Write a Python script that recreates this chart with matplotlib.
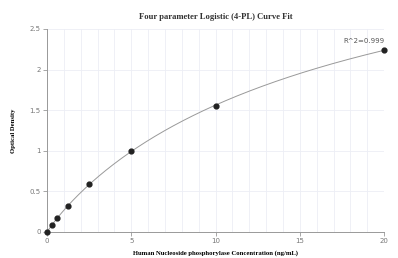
import numpy as np
import matplotlib
matplotlib.use("Agg")
import matplotlib.pyplot as plt

# standards
conc = np.array([0, 0.3125, 0.625, 1.25, 2.5, 5, 10, 20])
od = np.array([0.005, 0.08, 0.17, 0.32, 0.59, 1.0, 1.55, 2.24])
r2_text = "R^2=0.999"

# 4PL fit: y = d + (a-d)/(1+(x/c)^b), grid over b,c, linear solve for a,d
best = None
for b in np.linspace(0.5, 2.0, 151):
    for c in np.linspace(2, 60, 291):
        g = 1.0 / (1.0 + (conc / c) ** b)
        A = np.column_stack([g, 1 - g])
        coef, *_ = np.linalg.lstsq(A, od, rcond=None)
        err = np.sum((A @ coef - od) ** 2)
        if best is None or err < best[0]:
            best = (err, b, c, coef)
_, b, c, (a, d) = best
xs = np.linspace(0, 20, 300)
ys = d + (a - d) / (1 + (xs / c) ** b)

fig = plt.figure(figsize=(3.98, 2.58), dpi=100)
ax = fig.add_axes([0.118, 0.101, 0.847, 0.787])

ax.plot(xs, ys, color="#999999", lw=0.7, zorder=2)
ax.scatter(conc, od, s=12, color="#222222", zorder=3, clip_on=False)
ax.text(20, 2.24 + 0.08, r2_text, ha="right", va="bottom", fontsize=5, color="#555555")

ax.set_xlim(0, 20)
ax.set_ylim(0, 2.5)
ax.set_xticks([0, 5, 10, 15, 20])
ax.set_yticks([0, 0.5, 1, 1.5, 2, 2.5])
ax.set_yticklabels(["0", "0.5", "1", "1.5", "2", "2.5"])
ax.set_xticks(np.arange(0, 21, 1), minor=True)
ax.grid(True, which="both", axis="x", color="#eceef5", lw=0.6)
ax.grid(True, which="major", axis="y", color="#eceef5", lw=0.6)
ax.tick_params(which="minor", length=0)
ax.tick_params(which="major", length=3, width=0.6, color="#999999",
               labelsize=5, labelcolor="#777777", pad=1.5)
for s in ["top", "right"]:
    ax.spines[s].set_visible(False)
for s in ["left", "bottom"]:
    ax.spines[s].set_color("#999999")
    ax.spines[s].set_linewidth(0.7)

ax.set_title("Four parameter Logistic (4-PL) Curve Fit", fontsize=6.2, fontweight="bold",
             family="Liberation Serif", color="#333333", pad=7)
ax.set_xlabel("Human Nucleoside phosphorylase Concentration (ng/mL)", fontsize=4.8,
              fontweight="bold", family="Liberation Serif", labelpad=4)
ax.set_ylabel("Optical Density", fontsize=4.8, fontweight="bold",
              family="Liberation Serif", labelpad=10)

fig.savefig("out.png", dpi=100)
